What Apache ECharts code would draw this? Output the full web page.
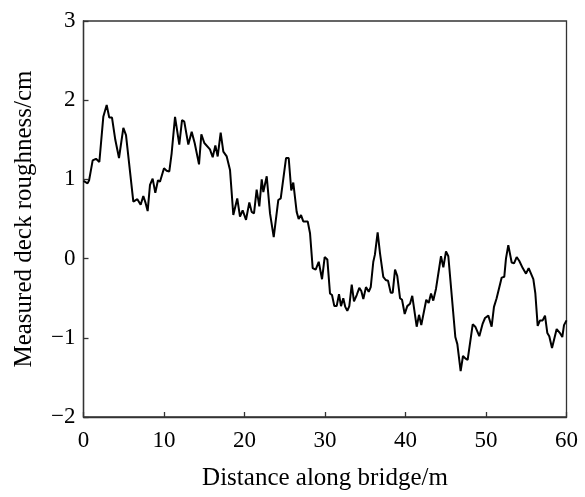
<!DOCTYPE html>
<html><head><meta charset="utf-8">
<script src="https://cdn.jsdelivr.net/npm/echarts@6/dist/echarts.min.js"></script>
<style>html,body{margin:0;padding:0;background:#fff}#c{width:585px;height:497px}</style>
</head><body><div id="c"></div>
<script>
const distance = [0.0,0.5,0.7,1.14,1.55,1.97,2.46,2.88,3.2,3.54,3.95,4.41,4.95,5.28,6.19,6.69,7.1,7.43,7.72,7.97,8.26,8.59,8.92,9.25,9.5,10.0,10.33,10.66,10.95,11.37,11.9,12.24,12.52,13.02,13.44,13.81,14.35,14.64,15.01,15.71,16.05,16.38,16.67,17.04,17.37,17.79,18.2,18.61,19.1,19.44,19.77,20.19,20.6,20.89,21.18,21.51,21.84,22.14,22.34,22.76,23.17,23.63,24.2,24.5,25.16,25.49,25.81,26.06,26.48,26.73,27.02,27.3,27.85,28.14,28.47,28.84,29.22,29.63,29.96,30.29,30.62,30.87,31.16,31.45,31.74,31.99,32.27,32.52,32.77,33.02,33.32,33.6,33.94,34.26,34.51,34.76,35.09,35.43,35.68,36.0,36.2,36.54,36.83,37.24,37.54,37.83,38.16,38.41,38.7,38.98,39.32,39.57,39.9,40.22,40.56,40.84,41.39,41.68,41.96,42.58,42.88,43.17,43.45,43.79,44.41,44.7,45.03,45.32,46.19,46.44,46.85,47.14,47.43,47.72,48.35,48.67,49.17,49.59,49.88,50.29,50.7,50.99,51.32,51.95,52.27,52.48,52.77,53.19,53.48,53.81,54.14,54.56,54.97,55.3,55.88,56.13,56.42,56.71,57.04,57.33,57.62,57.86,58.2,58.78,59.19,59.48,59.69,60.0];
const roughness = [0.98,0.95,0.99,1.24,1.26,1.22,1.79,1.94,1.78,1.78,1.50,1.27,1.65,1.56,0.72,0.75,0.68,0.79,0.70,0.60,0.93,1.01,0.83,0.99,0.97,1.14,1.11,1.10,1.33,1.79,1.44,1.75,1.73,1.44,1.60,1.46,1.19,1.57,1.46,1.38,1.28,1.43,1.29,1.59,1.35,1.29,1.12,0.55,0.76,0.53,0.61,0.49,0.71,0.59,0.57,0.87,0.66,1.00,0.84,1.04,0.57,0.27,0.74,0.76,1.27,1.27,0.86,0.96,0.59,0.50,0.55,0.47,0.47,0.32,-0.12,-0.14,-0.04,-0.26,0.02,-0.01,-0.44,-0.46,-0.60,-0.60,-0.45,-0.60,-0.50,-0.61,-0.66,-0.60,-0.33,-0.54,-0.46,-0.37,-0.41,-0.51,-0.36,-0.42,-0.36,-0.04,0.05,0.33,0.07,-0.23,-0.27,-0.28,-0.43,-0.43,-0.14,-0.22,-0.50,-0.52,-0.70,-0.60,-0.57,-0.47,-0.86,-0.71,-0.84,-0.52,-0.56,-0.44,-0.53,-0.38,0.03,-0.11,0.09,0.03,-0.99,-1.08,-1.42,-1.23,-1.26,-1.28,-0.83,-0.86,-0.98,-0.82,-0.75,-0.72,-0.86,-0.61,-0.50,-0.24,-0.23,0.00,0.17,-0.05,-0.06,0.02,-0.03,-0.12,-0.19,-0.12,-0.26,-0.44,-0.85,-0.78,-0.78,-0.72,-0.94,-0.98,-1.13,-0.89,-0.94,-0.99,-0.84,-0.78];
const xTicks = [0,10,20,30,40,50,60];
const yTicks = [-2,-1,0,1,2,3];
const xTitle = 'Distance along bridge/m';
const yTitle = 'Measured deck roughness/cm';

const font = '"Liberation Serif", "Times New Roman", serif';
const axisCol = '#333';
const chart = echarts.init(document.getElementById('c'), null, {renderer:'canvas'});
chart.setOption({
  animation:false,
  backgroundColor:'#fff',
  grid:{left:83.5,right:18.5,top:21,bottom:80,show:true,borderColor:axisCol,borderWidth:1.3,backgroundColor:'transparent'},
  xAxis:{type:'value',min:xTicks[0],max:xTicks[xTicks.length-1],interval:10,
    name:xTitle,nameLocation:'middle',nameGap:49,
    nameTextStyle:{fontFamily:font,fontSize:25,color:'#000'},
    axisLine:{onZero:false,lineStyle:{color:axisCol,width:1.3}},
    axisTick:{inside:true,length:5,lineStyle:{color:axisCol,width:1.3}},
    axisLabel:{fontFamily:font,fontSize:23,color:'#000',margin:12},
    splitLine:{show:false}},
  yAxis:{type:'value',min:yTicks[0],max:yTicks[yTicks.length-1],interval:1,
    name:yTitle,nameLocation:'middle',nameGap:47,
    nameTextStyle:{fontFamily:font,fontSize:25,color:'#000'},
    axisLine:{show:true,onZero:false,lineStyle:{color:axisCol,width:1.3}},
    axisTick:{show:true,inside:true,length:5,lineStyle:{color:axisCol,width:1.3}},
    axisLabel:{fontFamily:font,fontSize:23,color:'#000',margin:8,formatter:v=>String(v).replace('-','\u2212')},
    splitLine:{show:false}},
  series:[{type:'line',data:distance.map((d,i)=>[d,roughness[i]]),showSymbol:false,
    lineStyle:{color:'#000',width:2},itemStyle:{color:'#000'}}]
});
</script></body></html>
